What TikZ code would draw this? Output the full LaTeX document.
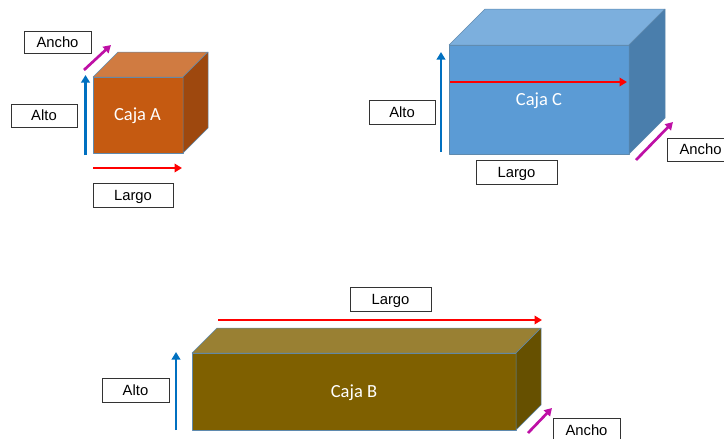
\documentclass[tikz,border=0pt]{standalone}
\usepackage{fontspec}
\setmainfont{Liberation Sans}
\newfontfamily\cajafont{Carlito}
\usetikzlibrary{arrows.meta}
\definecolor{orF}{HTML}{C55A11}\definecolor{orT}{HTML}{D07B41}\definecolor{orS}{HTML}{9E480E}
\definecolor{blF}{HTML}{5B9BD5}\definecolor{blT}{HTML}{7CAFDD}\definecolor{blS}{HTML}{4A7EAC}
\definecolor{olF}{HTML}{7F6000}\definecolor{olT}{HTML}{998033}\definecolor{olS}{HTML}{665000}
\definecolor{edgeC}{HTML}{5F8AAE}\definecolor{altoC}{HTML}{0070C0}\definecolor{anchoC}{HTML}{BE10A5}
\tikzset{
  x=1pt,y=-1pt,
  face/.style={draw=edgeC,line width=0.5pt,line join=round},
  dimlabel/.style={draw=black!80,line width=0.8pt,fill=white,font=\fontsize{14.8}{16}\selectfont,inner sep=0pt,anchor=center,text height=10.6pt,text depth=0pt},
  cajalabel/.style={text=white,font=\cajafont\fontsize{18.5}{20}\selectfont,inner sep=0pt,text height=11.8pt,text depth=0pt},
  dimarrow/.style={line width=2.7pt,-{Triangle[length=7.5pt,width=8.5pt]}},
  altoarrow/.style={dimarrow,draw=altoC},
  largoarrow/.style={dimarrow,draw=red},
  anchoarrow/.style={dimarrow,draw=anchoC},
}
\newcommand{\boxshape}[9]{% x0 x1 ytop ybot dx dy front top side
  \fill[#7,face] (#1,#3) rectangle (#2,#4);
  \fill[#8,face] (#1,#3) -- ({#1+#5},{#3-#6}) -- ({#2+#5},{#3-#6}) -- (#2,#3) -- cycle;
  \fill[#9,face] (#2,#3) -- ({#2+#5},{#3-#6}) -- ({#2+#5},{#4-#6}) -- (#2,#4) -- cycle;
}
\begin{document}
\begin{tikzpicture}
\useasboundingbox (0,0) rectangle (724,439);
\clip (0,0) rectangle (724,439);
% boxes
\boxshape{93}{183}{77}{153}{25}{25}{orF}{orT}{orS}
\boxshape{449}{629}{45}{154}{36}{36}{blF}{blT}{blS}
\boxshape{192}{516}{353}{430}{25}{25}{olF}{olT}{olS}
\node[cajalabel] (cajaA) at (137.5,115) {Caja A};
\node[cajalabel] (cajaC) at (539,100) {Caja C};
\node[cajalabel] (cajaB) at (354,392) {Caja B};
% labels
\node[dimlabel,minimum width=67pt,minimum height=22pt] (anchoA) at (57.5,42) {Ancho};
\node[dimlabel,minimum width=66pt,minimum height=23pt] (altoA) at (44,115.5) {Alto};
\node[dimlabel,minimum width=80pt,minimum height=24pt] (largoA) at (133,195) {Largo};
\node[dimlabel,minimum width=66pt,minimum height=24pt] (altoC) at (402,112) {Alto};
\node[dimlabel,minimum width=81pt,minimum height=24pt] (largoC) at (516.5,172.5) {Largo};
\node[dimlabel,minimum width=67pt,minimum height=23pt] (anchoC) at (700.5,149.5) {Ancho};
\node[dimlabel,minimum width=81pt,minimum height=24pt] (largoB) at (390.5,299.5) {Largo};
\node[dimlabel,minimum width=67pt,minimum height=24pt] (altoB) at (135.5,390.5) {Alto};
\node[dimlabel,minimum width=67pt,minimum height=24pt] (anchoB) at (586.5,430) {Ancho};
% arrow ends
\coordinate (a1) at (85.5,155); \coordinate (a2) at (85.5,75);
\coordinate (a3) at (93,168); \coordinate (a4) at (182,168);
\coordinate (a5) at (84,70); \coordinate (a6) at (111,45);
\coordinate (c1) at (441,152); \coordinate (c2) at (441,52);
\coordinate (c3) at (450,82); \coordinate (c4) at (627,82);
\coordinate (c5) at (636,160); \coordinate (c6) at (673,122);
\coordinate (b1) at (176,430); \coordinate (b2) at (176,352);
\coordinate (b3) at (218,320); \coordinate (b4) at (542,320);
\coordinate (b5) at (528,433); \coordinate (b6) at (552,408);
\draw[altoarrow] (a1) -- (a2);
\draw[largoarrow] (a3) -- (a4);
\draw[anchoarrow] (a5) -- (a6);
\draw[altoarrow] (c1) -- (c2);
\draw[largoarrow] (c3) -- (c4);
\draw[anchoarrow] (c5) -- (c6);
\draw[altoarrow] (b1) -- (b2);
\draw[largoarrow] (b3) -- (b4);
\draw[anchoarrow] (b5) -- (b6);
\end{tikzpicture}
\end{document}
